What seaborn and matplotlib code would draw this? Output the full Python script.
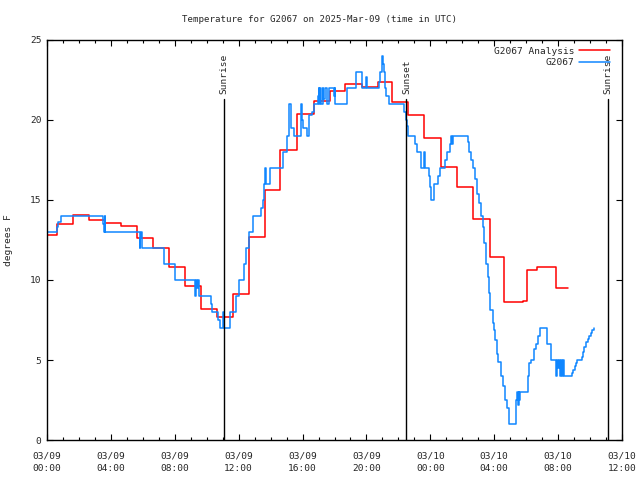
import matplotlib
matplotlib.use("Agg")
import matplotlib.pyplot as plt
import seaborn as sns
import pandas as pd
from matplotlib.ticker import MultipleLocator

# ---- data (hours since 2025-03-09 00:00 UTC) ----
analysis_hours = [0.00, 0.62, 1.63, 2.63, 3.64, 4.66, 5.65, 6.63, 7.64, 8.62, 9.62, 10.65,
                  11.62, 12.62, 13.62, 14.60, 15.65, 16.70, 17.70, 18.68, 19.73, 20.73,
                  21.61, 22.60, 23.63, 24.64, 25.64, 26.69, 27.73, 28.61, 29.00, 29.50,
                  29.80, 30.07, 30.66, 31.85, 32.64]
analysis_temp = [12.8, 13.5, 14.05, 13.75, 13.55, 13.4, 12.65, 12.0, 10.8, 9.6, 8.2, 7.7,
                 9.15, 12.7, 15.6, 18.1, 20.4, 21.2, 21.8, 22.25, 22.08, 22.35,
                 21.1, 20.3, 18.85, 17.05, 15.8, 13.8, 11.46, 8.65, 8.6, 8.65,
                 8.7, 10.6, 10.83, 9.48, 9.48]

obs_hours = [0.00, 0.61, 0.71, 0.85, 3.50, 3.55, 3.60, 3.66, 5.80, 5.85, 5.90, 5.95,
             7.30, 8.02, 9.25, 9.32, 9.38, 9.45, 9.52, 10.26, 10.30, 10.68, 10.80,
             11.00, 11.08, 11.47, 11.85, 12.05, 12.35, 12.47, 12.62, 12.90, 13.40,
             13.52, 13.60, 13.67, 13.72, 13.95, 14.80, 15.05, 15.12, 15.25, 15.45,
             15.90, 15.97, 16.05, 16.28, 16.38, 16.60, 16.70, 16.95, 17.00, 17.05,
             17.10, 17.15, 17.25, 17.30, 17.40, 17.50, 17.64, 17.95, 18.00, 18.05,
             18.26, 18.79, 19.37, 19.73, 19.98, 20.05, 20.77, 20.88, 20.95, 21.02,
             21.10, 21.15, 21.25, 21.40, 22.34, 22.45, 22.55, 22.59, 23.07, 23.14,
             23.39, 23.58, 23.64, 23.91, 23.97, 24.05, 24.25, 24.45, 24.60, 24.90,
             25.05, 25.22, 25.30, 25.38, 25.45, 26.35, 26.45, 26.55, 26.65, 26.80,
             26.95, 27.07, 27.15, 27.30, 27.38, 27.50, 27.58, 27.65, 27.75, 27.90,
             28.00, 28.06, 28.15, 28.25, 28.40, 28.52, 28.66, 28.78, 28.95, 29.38,
             29.42, 29.46, 29.52, 29.56, 29.62, 30.11, 30.18, 30.30, 30.50, 30.62,
             30.72, 30.85, 31.30, 31.55, 31.88, 31.95, 32.00, 32.05, 32.10, 32.18,
             32.25, 32.32, 32.38, 32.85, 32.95, 33.05, 33.15, 33.21, 33.52, 33.58,
             33.63, 33.73, 33.85, 33.95, 34.05, 34.15, 34.25]
obs_temp = [13, 13.3, 13.6, 14, 13.5, 13, 14, 13, 12, 12.6, 13, 12,
            11, 10, 9, 10, 9.5, 10, 9, 8.5, 8, 7.5, 7,
            8, 7, 8, 9, 10, 11, 12, 13, 14, 14.5,
            15, 16, 17, 16, 17, 18, 19, 21, 19.5, 19,
            21, 20, 19.5, 19, 20.3, 20.5, 21, 21.5, 22, 21,
            22, 21, 22, 21.3, 22, 21, 22, 21.5, 22, 21,
            21, 22, 23, 22, 22.7, 22, 22.4, 23, 24, 23.5,
            23, 22, 21.5, 21, 20.5, 20, 19.6, 19, 18.5, 18,
            17, 18, 17, 16.5, 15.8, 15, 16, 16.5, 17, 17.5,
            18, 18.5, 19, 18.5, 19, 18.6, 18, 17.5, 17, 16.3,
            15.4, 14.8, 14, 13.3, 12.3, 11, 10.2, 9.2, 8.1, 7.3,
            6.9, 6.25, 5.4, 4.9, 4, 3.4, 2.5, 2, 1, 2.5,
            3, 2.2, 3, 2.5, 3, 4, 4.8, 5, 5.7, 6,
            6.5, 7, 6, 5, 4, 5, 4.5, 5, 4, 5,
            4, 5, 4, 4.2, 4.4, 4.6, 4.8, 5, 5.2, 5.5,
            5.8, 6.1, 6.3, 6.5, 6.7, 6.9, 7]

sun_events = ["Sunrise", "Sunset", "Sunrise"]
sun_hours = [11.1, 22.5, 35.1]

xtick_hours = [0, 4, 8, 12, 16, 20, 24, 28, 32, 36]
xtick_labels = ["03/09\n00:00", "03/09\n04:00", "03/09\n08:00", "03/09\n12:00",
                "03/09\n16:00", "03/09\n20:00", "03/10\n00:00", "03/10\n04:00",
                "03/10\n08:00", "03/10\n12:00"]

# ---- styling ----
sns.set_style("white")
plt.rcParams["font.family"] = ["DejaVu Sans Mono"]
plt.rcParams["font.size"] = 6.8

fig = plt.figure(figsize=(6.4, 4.8), dpi=100)
ax = fig.add_axes([47 / 640, 1 - 440 / 480, 575 / 640, 400 / 480])

df_a = pd.DataFrame({"hour": analysis_hours, "temp": analysis_temp})
df_o = pd.DataFrame({"hour": obs_hours, "temp": obs_temp})

sns.lineplot(data=df_a, x="hour", y="temp", ax=ax, color="#ff0000", lw=1.1,
             drawstyle="steps-post", estimator=None, label="G2067 Analysis")
sns.lineplot(data=df_o, x="hour", y="temp", ax=ax, color="#0f86ff", lw=1.1,
             drawstyle="steps-post", estimator=None, label="G2067")

for name, h in zip(sun_events, sun_hours):
    ax.axvline(h, ymin=0, ymax=21.3 / 25, color="black", lw=1.0)
    ax.text(h, 21.6, name, rotation=90, ha="center", va="bottom", fontsize=6.8)

ax.set_xlim(0, 36)
ax.set_ylim(0, 25)
ax.set_xticks(xtick_hours)
ax.set_xticklabels(xtick_labels, linespacing=1.5)
ax.xaxis.set_minor_locator(MultipleLocator(1))
ax.set_yticks([0, 5, 10, 15, 20, 25])
ax.set_yticklabels(["0", "5", "10", "15", "20", "25"])
ax.tick_params(which="both", direction="in", top=True, right=True, bottom=True, left=True,
               color="black", width=0.8)
ax.tick_params(which="major", length=4, labelsize=6.8)
ax.tick_params(axis="x", which="major", pad=8)
ax.tick_params(axis="y", which="major", pad=4)
ax.tick_params(which="minor", length=2)
for s in ax.spines.values():
    s.set_color("black")
    s.set_linewidth(1.0)

ax.set_xlabel("")
ax.set_ylabel("degrees F", fontsize=6.8, labelpad=12)
fig.text(0.5, 1 - 20 / 480, "Temperature for G2067 on 2025-Mar-09 (time in UTC)",
         ha="center", va="center", fontsize=6.6)

leg = ax.legend(loc="upper right", bbox_to_anchor=(0.99, 1.0), frameon=False,
                markerfirst=False, handlelength=3.2, handletextpad=0.5,
                labelspacing=0.25, borderaxespad=0.3, fontsize=6.8)

fig.savefig("out.png", dpi=100)
